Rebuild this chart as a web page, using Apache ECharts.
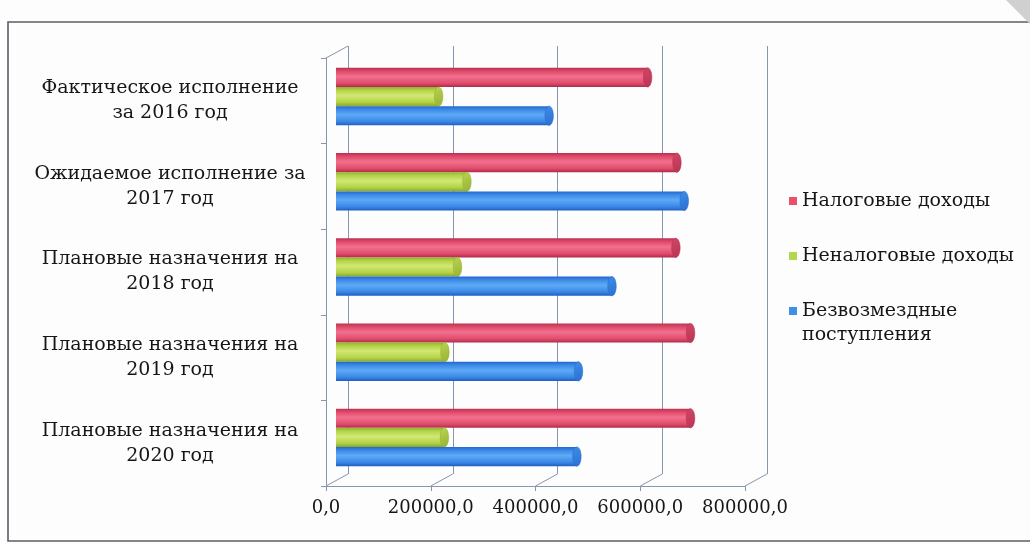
<!DOCTYPE html>
<html>
<head>
<meta charset="utf-8">
<title>Доходы бюджета</title>
<script src="https://cdn.jsdelivr.net/npm/echarts@6.0.0/dist/echarts.min.js"></script>
<style>
  html, body { margin: 0; padding: 0; background: #fdfdfd; }
  #chart { width: 1030px; height: 545px; }
</style>
</head>
<body>
<div id="chart"></div>
<script>
// Budget revenue by year and source
const categories = [
  'Фактическое исполнение\nза 2016 год',
  'Ожидаемое исполнение за\n2017 год',
  'Плановые назначения на\n2018 год',
  'Плановые назначения на\n2019 год',
  'Плановые назначения на\n2020 год'
];
const seriesNames = ['Налоговые доходы', 'Неналоговые доходы', 'Безвозмездные поступления'];
const taxIncome    = [603000, 659000, 657000, 685000, 685000];
const nonTaxIncome = [204000, 258000, 240000, 216000, 215000];
const transfers    = [415000, 673000, 535000, 471000, 468000];
const xTicks = [0, 200000, 400000, 600000, 800000];

const FONT = 'DejaVu Serif';
const TEXT_COLOR = '#161616';
const GRID_COLOR = '#8596b0';
const DEPTH_X = 22, DEPTH_Y = -12;

const palettes = [
  { legend: '#e8506e', body: ['#b8324f', '#e04a6a', '#f2708e', '#e24c6c', '#ad2c4a'], cap: ['#d24766', '#b83452'] },
  { legend: '#b4d64a', body: ['#93b22e', '#b4d44a', '#d2e874', '#b2d246', '#8aa628'], cap: ['#b9d452', '#97b232'] },
  { legend: '#3d90ea', body: ['#2468cc', '#3c8ae8', '#5eaaf6', '#3a88e6', '#205ec2'], cap: ['#3f8ee8', '#2a6fd0'] }
];

function grad(cols) {
  return new echarts.graphic.LinearGradient(0, 0, 0, 1, [
    { offset: 0, color: cols[0] },
    { offset: 0.18, color: cols[1] },
    { offset: 0.45, color: cols[2] },
    { offset: 0.8, color: cols[3] },
    { offset: 1, color: cols[4] }
  ]);
}

// Horizontal cylinder: shaded body plus an elliptical end cap
function cylinder(pal, slot) {
  return function (params, api) {
    const cat = api.value(1);
    const start = api.coord([0, cat]);
    const end = api.coord([api.value(0), cat]);
    const band = api.size([0, 1])[1];
    const h = band * 0.225;
    const cy = start[1] + (slot - 1) * h;
    const rx = Math.max(3, h * 0.22);
    const xEnd = end[0] - rx;
    return {
      type: 'group',
      children: [
        { type: 'rect', shape: { x: start[0], y: cy - h / 2, width: Math.max(0, xEnd - start[0]), height: h },
          style: { fill: grad(pal.body) } },
        { type: 'ellipse', shape: { cx: xEnd, cy: cy, rx: rx, ry: h / 2 },
          style: { fill: new echarts.graphic.LinearGradient(0, 0, 1, 1, [
            { offset: 0, color: pal.cap[0] }, { offset: 1, color: pal.cap[1] }]),
            stroke: pal.cap[1], lineWidth: 0.6 } }
      ]
    };
  };
}

function seriesData(values) {
  return values.map((v, i) => [v, i]);
}

const valueFmt = v => v.toFixed(1).replace('.', ',');

const chart = echarts.init(document.getElementById('chart'), null, { renderer: 'canvas' });

chart.setOption({
  backgroundColor: '#fdfdfd',
  animation: false,
  graphic: [
    { type: 'rect', shape: { x: 8, y: 22, width: 1040, height: 519 },
      style: { fill: 'none', stroke: '#5c5c66', lineWidth: 1.6 }, z: 10 },
    { type: 'polygon', shape: { points: [[1006, 0], [1030, 0], [1030, 24]] },
      style: { fill: '#cfd0cf' }, z: 11 }
  ],
  grid: [
    // front plane: axis line, ticks and labels
    { left: 326, right: 285, top: 58, bottom: 59 },
    // back wall with vertical grid lines
    { left: 348, right: 263, top: 46, bottom: 71 },
    // plane where the cylinders sit
    { left: 336, right: 275, top: 54, bottom: 65 }
  ],
  xAxis: [
    { gridIndex: 0, type: 'value', min: 0, max: 800000, interval: 200000,
      axisLine: { show: true, lineStyle: { color: GRID_COLOR } },
      axisTick: { show: true, length: 5, lineStyle: { color: GRID_COLOR } },
      splitLine: { show: false },
      axisLabel: { formatter: valueFmt, fontFamily: FONT, fontSize: 18, color: TEXT_COLOR, margin: 13 } },
    { gridIndex: 1, type: 'value', min: 0, max: 800000, interval: 200000,
      axisLine: { show: false }, axisTick: { show: false }, axisLabel: { show: false },
      splitLine: { show: true, lineStyle: { color: GRID_COLOR, width: 1 } } },
    { gridIndex: 2, type: 'value', min: 0, max: 800000, show: false }
  ],
  yAxis: [
    { gridIndex: 0, type: 'category', inverse: true, data: categories,
      axisLine: { show: true, lineStyle: { color: GRID_COLOR } },
      axisTick: { show: true, length: 5, lineStyle: { color: GRID_COLOR } },
      axisLabel: { align: 'center', margin: 156, fontFamily: FONT, fontSize: 19, lineHeight: 25, color: TEXT_COLOR } },
    { gridIndex: 1, type: 'category', inverse: true, data: categories, show: false },
    { gridIndex: 2, type: 'category', inverse: true, data: categories, show: false }
  ],
  legend: [
    { data: [seriesNames[0], seriesNames[1]], orient: 'vertical', left: 789, top: 189, padding: 0,
      icon: 'rect', itemWidth: 8, itemHeight: 8, itemGap: 31, selectedMode: false,
      textStyle: { fontFamily: FONT, fontSize: 19, lineHeight: 24, color: TEXT_COLOR } },
    // two-line entry: a leading empty line keeps the marker beside the first line
    { data: [seriesNames[2]], orient: 'vertical', left: 789, top: 275, padding: 0,
      icon: 'rect', itemWidth: 8, itemHeight: 8, selectedMode: false,
      formatter: name => '\n' + name.replace(' ', '\n'),
      textStyle: { fontFamily: FONT, fontSize: 19, lineHeight: 24, color: TEXT_COLOR } }
  ],
  series: [
    { name: seriesNames[0], type: 'custom', xAxisIndex: 2, yAxisIndex: 2, z: 5,
      itemStyle: { color: palettes[0].legend }, encode: { x: 0, y: 1 },
      renderItem: cylinder(palettes[0], 0), data: seriesData(taxIncome) },
    { name: seriesNames[1], type: 'custom', xAxisIndex: 2, yAxisIndex: 2, z: 5,
      itemStyle: { color: palettes[1].legend }, encode: { x: 0, y: 1 },
      renderItem: cylinder(palettes[1], 1), data: seriesData(nonTaxIncome) },
    { name: seriesNames[2], type: 'custom', xAxisIndex: 2, yAxisIndex: 2, z: 5,
      itemStyle: { color: palettes[2].legend }, encode: { x: 0, y: 1 },
      renderItem: cylinder(palettes[2], 2), data: seriesData(transfers) },
    // floor edges joining the front ticks to the back wall
    { type: 'custom', xAxisIndex: 0, yAxisIndex: 0, silent: true, z: 1,
      encode: { x: 0, y: 1 }, data: xTicks.map(v => [v, 0]),
      renderItem: function (params, api) {
        const cs = params.coordSys;
        const x = api.coord([api.value(0), 0])[0];
        const bottom = cs.y + cs.height;
        const lineStyle = { stroke: GRID_COLOR, lineWidth: 1 };
        const children = [
          { type: 'line', shape: { x1: x, y1: bottom, x2: x + DEPTH_X, y2: bottom + DEPTH_Y }, style: lineStyle }
        ];
        if (params.dataIndex === 0) {
          children.push({ type: 'line', shape: { x1: cs.x, y1: cs.y, x2: cs.x + DEPTH_X, y2: cs.y + DEPTH_Y }, style: lineStyle });
        }
        return { type: 'group', children: children };
      } }
  ]
});
</script>
</body>
</html>
